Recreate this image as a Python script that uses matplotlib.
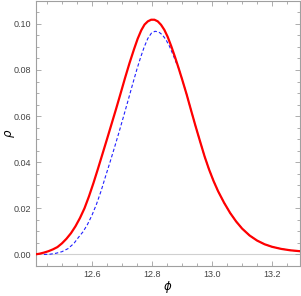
import matplotlib
matplotlib.use("Agg")
import matplotlib.pyplot as plt
from matplotlib.ticker import MultipleLocator

# red solid curve
red_phi = [12.410, 12.425, 12.440, 12.455, 12.470, 12.485, 12.500, 12.515,
           12.530, 12.545, 12.560, 12.575, 12.590, 12.605, 12.620, 12.635,
           12.650, 12.665, 12.680, 12.695, 12.710, 12.725, 12.740, 12.752,
           12.764, 12.775, 12.786, 12.797, 12.808, 12.819, 12.830, 12.841,
           12.852, 12.864, 12.876, 12.888, 12.900, 12.915, 12.930, 12.945,
           12.960, 12.975, 12.990, 13.005, 13.020, 13.040, 13.060, 13.080,
           13.100, 13.125, 13.150, 13.175, 13.200, 13.230, 13.260, 13.293]
red_rho = [0.0000, 0.0003, 0.0008, 0.0014, 0.0022, 0.0032, 0.0048, 0.0068,
           0.0092, 0.0122, 0.0158, 0.0200, 0.0252, 0.0310, 0.0372, 0.0436,
           0.0500, 0.0565, 0.0630, 0.0697, 0.0765, 0.0830, 0.0890, 0.0935,
           0.0972, 0.0997, 0.1011, 0.1018, 0.1018, 0.1011, 0.0996, 0.0974,
           0.0944, 0.0903, 0.0858, 0.0810, 0.0760, 0.0695, 0.0625, 0.0556,
           0.0490, 0.0425, 0.0368, 0.0318, 0.0274, 0.0224, 0.0180, 0.0143,
           0.0112, 0.0082, 0.0060, 0.0044, 0.0033, 0.0024, 0.0018, 0.0014]

# blue dashed curve
blue_phi = [12.440, 12.460, 12.480, 12.500, 12.520, 12.540, 12.555, 12.570,
            12.585, 12.600, 12.615, 12.630, 12.645, 12.660, 12.675, 12.690,
            12.705, 12.720, 12.735, 12.750, 12.762, 12.774, 12.786, 12.798,
            12.810, 12.822, 12.834, 12.846, 12.858, 12.870, 12.880, 12.888,
            12.900, 12.915, 12.930, 12.945, 12.960, 12.975, 12.990, 13.005,
            13.020, 13.040, 13.060, 13.080, 13.100, 13.125, 13.150, 13.175,
            13.200, 13.230, 13.260, 13.293]
blue_rho = [0.0000, 0.0001, 0.0005, 0.0012, 0.0025, 0.0048, 0.0074, 0.0098,
            0.0130, 0.0170, 0.0218, 0.0274, 0.0338, 0.0400, 0.0464, 0.0530,
            0.0598, 0.0667, 0.0737, 0.0805, 0.0855, 0.0900, 0.0937, 0.0960,
            0.0968, 0.0965, 0.0953, 0.0932, 0.0903, 0.0866, 0.0833, 0.0810,
            0.0760, 0.0695, 0.0625, 0.0556, 0.0490, 0.0425, 0.0368, 0.0318,
            0.0274, 0.0224, 0.0180, 0.0143, 0.0112, 0.0082, 0.0060, 0.0044,
            0.0033, 0.0024, 0.0018, 0.0014]

plt.rcParams["font.family"] = ["Liberation Sans", "DejaVu Sans"]

fig = plt.figure(figsize=(3.01, 2.96), dpi=100)
ax = fig.add_axes([0.118, 0.101, 0.879, 0.897])

ax.axhline(0, color="#d0d0d0", lw=0.8, zorder=1)
ax.plot(blue_phi, blue_rho, color="#2020ff", lw=0.8, ls=(0, (3, 2)), zorder=2)
ax.plot(red_phi, red_rho, color="#ff0000", lw=1.6, zorder=3)

ax.set_xlim(12.412, 13.293)
ax.set_ylim(-0.00506, 0.1101)

ax.xaxis.set_major_locator(MultipleLocator(0.2))
ax.xaxis.set_minor_locator(MultipleLocator(0.05))
ax.yaxis.set_major_locator(MultipleLocator(0.02))
ax.yaxis.set_minor_locator(MultipleLocator(0.005))
ax.xaxis.set_major_formatter(lambda v, p: f"{v:.1f}")
ax.yaxis.set_major_formatter(lambda v, p: f"{v:.2f}")

frame_col = "#a0a0a0"
for s in ax.spines.values():
    s.set_color(frame_col)
    s.set_linewidth(0.8)
ax.tick_params(which="both", direction="in", top=True, right=True,
               color=frame_col, labelsize=6.5, labelcolor="#444444", width=0.6)
ax.tick_params(which="major", length=3.5, pad=3)
ax.tick_params(which="minor", length=2)

ax.set_xlabel(r"$\phi$", fontsize=8.5)
ax.set_ylabel(r"$\rho$", fontsize=8.5)
ax.xaxis.set_label_coords(0.5, -0.05)
ax.yaxis.set_label_coords(-0.07, 0.5)

fig.savefig("out.png", dpi=100)
